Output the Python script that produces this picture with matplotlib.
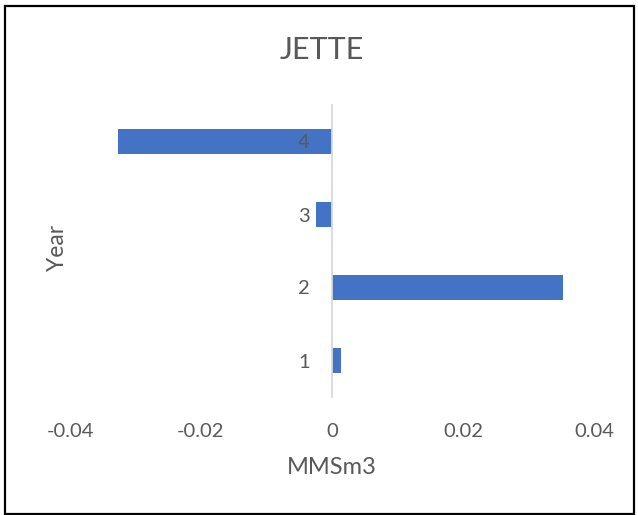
import matplotlib
matplotlib.use("Agg")
import matplotlib.pyplot as plt
from matplotlib.patches import Rectangle

# Data
years = [1, 2, 3, 4]
values = [0.0014, 0.0353, -0.0025, -0.0327]
xticks = [-0.04, -0.02, 0, 0.02, 0.04]
xtick_labels = ["-0.04", "-0.02", "0", "0.02", "0.04"]

plt.rcParams["font.family"] = ["Lato", "DejaVu Sans"]
text_color = "#595959"

W, H = 638, 515
fig = plt.figure(figsize=(W / 100, H / 100), dpi=100)
ax = fig.add_axes([70 / W, 1 - 397 / H, (594 - 70) / W, (397 - 105) / H])

ax.barh(years, values, height=0.355, color="#4472C4", zorder=3)

ax.set_xlim(-0.04, 0.04)
ax.set_ylim(0.5, 4.5)
ax.set_xticks(xticks)
ax.set_xticklabels(xtick_labels)
ax.set_yticks(years)
ax.set_yticklabels([str(y) for y in years])

for side in ("top", "right", "bottom"):
    ax.spines[side].set_visible(False)
ax.spines["left"].set_position(("data", 0))
ax.spines["left"].set_color("#d9d9d9")
ax.spines["left"].set_linewidth(1.3)
ax.spines["left"].set_zorder(4)

ax.tick_params(axis="y", length=0, pad=16, labelsize=14.5, labelcolor=text_color)
ax.tick_params(axis="x", length=0, pad=19, labelsize=14.5, labelcolor=text_color)
# category labels sit on top of the bars
ax.yaxis.set_zorder(5)

fig.text(322 / W, 1 - 50 / H, "JETTE", ha="center", va="center",
         fontsize=22, color=text_color)
fig.text(332 / W, 1 - 467 / H, "MMSm3", ha="center", va="center",
         fontsize=17, color=text_color)
fig.text(58 / W, 1 - 248 / H, "Year", ha="center", va="center",
         rotation=90, fontsize=16.5, color=text_color)

# outer frame
fig.patches.append(Rectangle((5 / W, 1 - 514 / H), (634 - 5) / W, (514 - 6) / H,
                             transform=fig.transFigure, fill=False,
                             edgecolor="black", linewidth=1.6))

fig.savefig("out.png", dpi=100)
